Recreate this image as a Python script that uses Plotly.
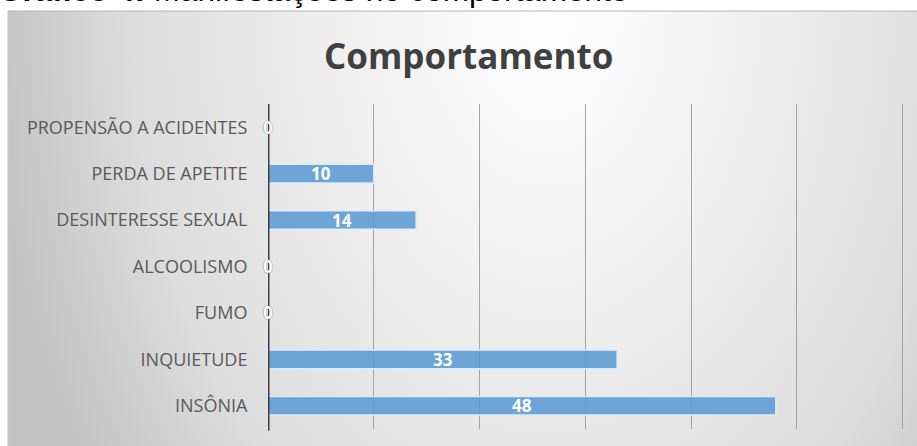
import base64
import plotly.graph_objects as go

# ---- data (bottom to top) ----
categories = ["INSÔNIA", "INQUIETUDE", "FUMO", "ALCOOLISMO",
              "DESINTERESSE SEXUAL", "PERDA DE APETITE", "PROPENSÃO A ACIDENTES"]
values = [48, 33, 0, 0, 14, 10, 0]
x_ticks = [0, 10, 20, 30, 40, 50, 60]

title_text = "Comportamento"
caption_bold = "Gráfico 4:"
caption_rest = " Manifestações no comportamento"

W, H = 917, 446
ML, MR, MT, MB = 268, 10, 104, 17
PW, PH = W - ML - MR, H - MT - MB


def px_x(p):
    return (p - ML) / PW


def px_y(p):
    return (H - MB - p) / PH


# background radial gradient as an inline SVG
bw, bh = 960, 460
cx = 0.56 * bw
svg = f'''<svg xmlns="http://www.w3.org/2000/svg" width="{bw}" height="{bh}" viewBox="0 0 {bw} {bh}" preserveAspectRatio="none">
<defs><radialGradient id="g" gradientUnits="userSpaceOnUse" cx="{cx}" cy="0" r="{0.58*bw}"
 gradientTransform="translate({cx},0) scale(1,1.45) translate({-cx},0)">
<stop offset="0" stop-color="#ffffff"/>
<stop offset="0.4" stop-color="#eeeeee"/>
<stop offset="0.75" stop-color="#dcdcdc"/>
<stop offset="1" stop-color="#c2c2c2"/>
</radialGradient></defs>
<rect x="0" y="0" width="{bw}" height="{bh}" fill="url(#g)"/>
</svg>'''
src = "data:image/svg+xml;base64," + base64.b64encode(svg.encode()).decode()

fig = go.Figure()
fig.add_trace(go.Bar(
    y=categories, x=values, orientation="h", width=0.4,
    marker=dict(color="rgba(91,155,213,0.88)",
                line=dict(color="rgba(225,238,250,0.95)", width=1.5)),
    hoverinfo="skip", showlegend=False,
))

annotations = [
    dict(text=title_text, xref="paper", yref="paper",
         x=px_x(468), y=px_y(56), xanchor="center", yanchor="middle",
         showarrow=False,
         font=dict(family="Open Sans", size=35, color="#404040", weight="bold")),
    dict(text=f"<b>{caption_bold}</b>{caption_rest}", xref="paper", yref="paper",
         x=px_x(-4), y=px_y(10), xanchor="left", yanchor="bottom",
         showarrow=False,
         font=dict(family="Liberation Sans", size=31.5, color="#000000")),
]
for cat, v in zip(categories, values):
    annotations.append(dict(
        text=str(v), x=v / 2, y=cat, xref="x", yref="y",
        xanchor="center", yanchor="middle", showarrow=False,
        font=dict(family="Open Sans", size=17, color="white", weight="bold",
                  shadow="0px 0px 1px #3a3a3a" if v == 0 else "none"),
    ))

fig.update_layout(
    width=W, height=H,
    margin=dict(l=ML, r=MR, t=MT, b=MB, pad=0),
    paper_bgcolor="white", plot_bgcolor="rgba(0,0,0,0)",
    images=[dict(source=src, xref="paper", yref="paper",
                 x=px_x(8), y=px_y(11), sizex=(bw) / PW, sizey=(bh) / PH,
                 xanchor="left", yanchor="top", sizing="stretch", layer="below")],
    shapes=[dict(type="line", xref="paper", yref="paper",
                 x0=px_x(8), x1=px_x(W + 5), y0=px_y(11), y1=px_y(11),
                 line=dict(color="#b5b5b5", width=1)),
            dict(type="line", xref="paper", yref="paper",
                 x0=px_x(8), x1=px_x(8), y0=px_y(11), y1=px_y(H + 5),
                 line=dict(color="#c8c8c8", width=1)),
            dict(type="line", xref="x", yref="paper", x0=0, x1=0, y0=-0.005, y1=1.0,
                 line=dict(color="#404040", width=3), layer="above")],
    annotations=annotations,
    xaxis=dict(range=[0, 60.4], tickvals=x_ticks, showticklabels=False,
               showgrid=True, gridcolor="#a3a3a3", gridwidth=1,
               zeroline=False, showline=False, fixedrange=True),
    yaxis=dict(type="category", categoryorder="array", categoryarray=categories,
               range=[-0.5, 6.5], showgrid=False, zeroline=False,
               showline=False, ticks="outside", ticklen=16,
               tickcolor="rgba(0,0,0,0)", fixedrange=True,
               tickfont=dict(family="Open Sans", size=18, color="#595959")),
)

fig.write_html("out.html", config={"displayModeBar": False},
               post_script="document.body.style.margin='0px';")
